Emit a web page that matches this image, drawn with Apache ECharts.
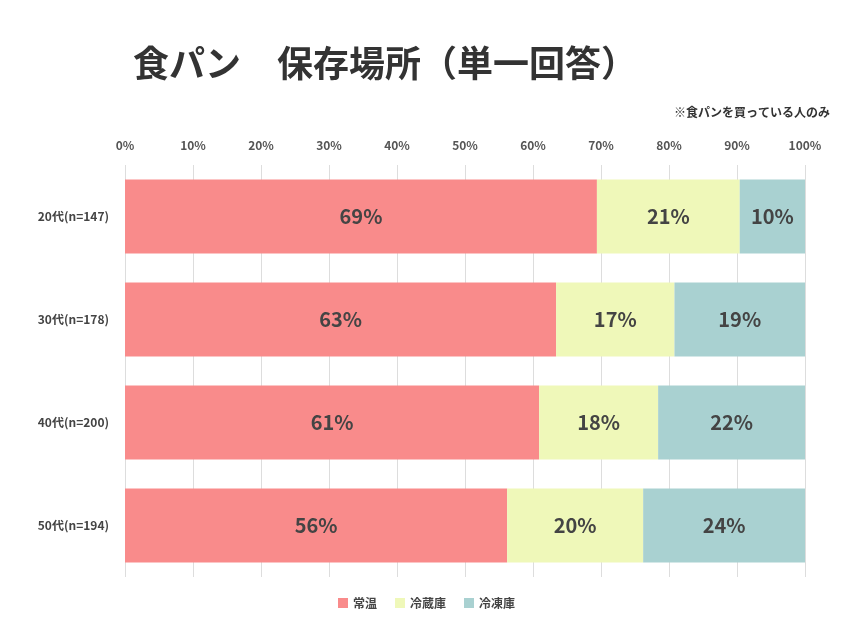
<!DOCTYPE html>
<html><head><meta charset="utf-8">
<script src="https://cdn.jsdelivr.net/npm/echarts@6/dist/echarts.min.js"></script>
<style>html,body{margin:0;padding:0;background:#fff}#c{width:853px;height:640px}</style>
</head><body><div id="c"></div>
<script>
const categories = ['20代(n=147)','30代(n=178)','40代(n=200)','50代(n=194)'];
const seriesNames = ['常温','冷蔵庫','冷凍庫'];
const joon = [69.4, 63.4, 60.9, 56.2];
const reizo = [21.0, 17.4, 17.5, 20.0];
const reito = [9.6, 19.2, 21.6, 23.8];
const colors = ['#f98b8b','#eff8b9','#a9d1d1'];
const font = '"Noto Sans CJK JP","Noto Sans",sans-serif';
const chart = echarts.init(document.getElementById('c'));
const mk = (name, data, color) => ({
  name, type:'bar', stack:'s', data, barWidth:74,
  itemStyle:{color},
  label:{show:true, position:'inside', fontSize:20, fontWeight:'bold', color:'#444', fontFamily:font,
    formatter:p=>Math.round(p.value)+'%'}
});
chart.setOption({
  animation:false,
  title:[{text:'食パン　保存場所（単一回答）', left:128, top:40,
    textStyle:{fontSize:36, fontWeight:'bold', color:'#333', fontFamily:font}},
    {text:'※食パンを買っている人のみ', right:18, top:101,
    textStyle:{fontSize:12, fontWeight:'bold', color:'#333', fontFamily:font}}],
  legend:{bottom:26, left:'center', itemWidth:10, itemHeight:10, icon:'rect', itemGap:18,
    textStyle:{fontSize:12, fontWeight:'bold', color:'#444', fontFamily:font}},
  grid:{left:125, right:48, top:165, bottom:63, containLabel:false},
  xAxis:{type:'value', position:'top', min:0, max:100, interval:10,
    axisLabel:{formatter:'{value}%', fontSize:12, fontWeight:'bold', color:'#555', fontFamily:font, margin:14},
    axisLine:{show:false}, axisTick:{show:false},
    splitLine:{lineStyle:{color:'#ddd'}}},
  yAxis:{type:'category', data:categories, inverse:true,
    axisLabel:{fontSize:12, fontWeight:'bold', color:'#444', fontFamily:font, margin:16},
    axisLine:{show:false}, axisTick:{show:false}},
  series:[mk(seriesNames[0], joon, colors[0]), mk(seriesNames[1], reizo, colors[1]), mk(seriesNames[2], reito, colors[2])]
});
</script></body></html>
